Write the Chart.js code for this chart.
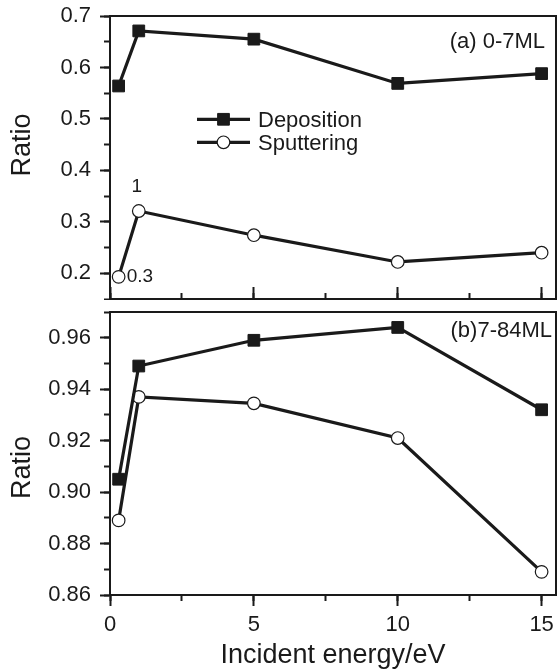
<!DOCTYPE html>
<html>
<head>
<meta charset="utf-8">
<script src="https://cdn.jsdelivr.net/npm/chart.js@4.4.1/dist/chart.umd.min.js"></script>
<style>
html,body{margin:0;padding:0;background:#fff;}
#wrap{position:relative;width:558px;height:672px;overflow:hidden;background:#fff;}
.panel{position:absolute;left:0;width:558px;}
#pa{top:0;height:300px;}
#pb{top:300px;height:372px;}
canvas{display:block;}
</style>
</head>
<body>
<div id="wrap">
  <div class="panel" id="pa"><canvas id="ca" width="558" height="300"></canvas></div>
  <div class="panel" id="pb"><canvas id="cb" width="558" height="372"></canvas></div>
</div>
<script>
// ---- data ----
const energies = [0.3, 1, 5, 10, 15];
const depositionA = [0.564, 0.671, 0.655, 0.569, 0.588];
const sputteringA = [0.193, 0.321, 0.274, 0.222, 0.240];
const depositionB = [0.905, 0.949, 0.959, 0.964, 0.932];
const sputteringB = [0.889, 0.937, 0.9345, 0.921, 0.869];
const seriesNames = ['Deposition', 'Sputtering'];
const panelLabels = ['(a) 0-7ML', '(b)7-84ML'];
const xTicks = [0, 5, 10, 15];
const xMinorTicks = [0, 2.5, 5, 7.5, 10, 12.5, 15];
const yTicksA = [0.2, 0.3, 0.4, 0.5, 0.6, 0.7];
const yMinorTicksA = [0.15, 0.2, 0.25, 0.3, 0.35, 0.4, 0.45, 0.5, 0.55, 0.6, 0.65, 0.7];
const yTicksB = [0.86, 0.88, 0.90, 0.92, 0.94, 0.96];
const yMinorTicksB = [0.86, 0.87, 0.88, 0.89, 0.90, 0.91, 0.92, 0.93, 0.94, 0.95, 0.96, 0.97];
const xTitle = 'Incident energy/eV';
const yTitle = 'Ratio';
const pointLabelsA = ['0.3', '1'];

const INK = '#1a1a1a';
const FONT = '"Liberation Sans", Arial, Helvetica, sans-serif';

const overlayPlugin = {
  id: 'overlay',
  afterDatasetsDraw(chart, args, opts) {
    const ctx = chart.ctx;
    const ca = chart.chartArea;
    const xs = chart.scales.x, ys = chart.scales.y;
    ctx.save();
    ctx.fillStyle = INK;
    // y-axis title
    ctx.save();
    ctx.font = '27px ' + FONT;
    ctx.textAlign = 'center';
    ctx.textBaseline = 'middle';
    ctx.translate(opts.yTitleX, (ca.top + ca.bottom) / 2 + opts.yTitleDy);
    ctx.rotate(-Math.PI / 2);
    ctx.fillText(yTitle, 0, 0);
    ctx.restore();
    // panel label
    ctx.font = '22px ' + FONT;
    ctx.textAlign = 'right';
    ctx.textBaseline = 'middle';
    ctx.fillText(opts.panelLabel, ca.right - opts.labelDx, ca.top + opts.labelDy);
    // point labels
    (opts.pointLabels || []).forEach(pl => {
      ctx.font = '19px ' + FONT;
      ctx.textAlign = pl.align;
      ctx.textBaseline = 'middle';
      ctx.fillText(pl.text, xs.getPixelForValue(pl.x) + pl.dx, ys.getPixelForValue(pl.y) + pl.dy);
    });
    // legend
    if (opts.legend) {
      const L = opts.legend;
      chart.data.datasets.forEach((ds, i) => {
        const y = ca.top + L.dy + i * L.gap;
        const x0 = ca.left + L.dx, x1 = x0 + L.len, xm = (x0 + x1) / 2;
        ctx.strokeStyle = ds.borderColor;
        ctx.lineWidth = ds.borderWidth;
        ctx.beginPath(); ctx.moveTo(x0, y); ctx.lineTo(x1, y); ctx.stroke();
        ctx.lineWidth = ds.pointBorderWidth;
        ctx.fillStyle = ds.pointBackgroundColor;
        ctx.strokeStyle = ds.pointBorderColor;
        if (ds.pointStyle === 'rect') {
          const h = ds.pointRadius * Math.SQRT1_2;
          ctx.beginPath(); ctx.rect(xm - h, y - h, 2 * h, 2 * h); ctx.fill(); ctx.stroke();
        } else {
          ctx.beginPath(); ctx.arc(xm, y, ds.pointRadius, 0, Math.PI * 2); ctx.fill(); ctx.stroke();
        }
        ctx.fillStyle = INK;
        ctx.font = '22px ' + FONT;
        ctx.textAlign = 'left';
        ctx.textBaseline = 'middle';
        ctx.fillText(ds.label, x1 + L.textGap, y + 1.5);
      });
    }
    ctx.restore();
  }
};

function setTicks(arr) { return s => { s.ticks = arr.map(v => ({ value: v })); }; }
function fixH(h) { return s => { s.height = h; s.paddingLeft = 0; s.paddingRight = 0; s.paddingTop = 0; s.paddingBottom = 0; }; }
function fixW(w) { return s => { s.width = w; s.paddingLeft = 0; s.paddingRight = 0; s.paddingTop = 0; s.paddingBottom = 0; }; }

function makePanel(canvas, dep, sput, cfg) {
  const pts = arr => energies.map((e, i) => ({ x: e, y: arr[i] }));
  return new Chart(canvas, {
    type: 'line',
    data: {
      datasets: [
        { label: seriesNames[0], data: pts(dep), borderColor: INK, borderWidth: 3.2,
          pointStyle: 'rect', pointRadius: 8.3, pointHoverRadius: 8.3,
          pointBackgroundColor: INK, pointBorderColor: INK, pointBorderWidth: 1,
          tension: 0, clip: false },
        { label: seriesNames[1], data: pts(sput), borderColor: INK, borderWidth: 3.2,
          pointStyle: 'circle', pointRadius: 6.3, pointHoverRadius: 6.3,
          pointBackgroundColor: '#ffffff', pointBorderColor: INK, pointBorderWidth: 1.2,
          tension: 0, clip: false }
      ]
    },
    options: {
      responsive: false,
      animation: false,
      events: [],
      layout: { autoPadding: false, padding: { top: cfg.padTop, right: 2, left: 0, bottom: 0 } },
      plugins: {
        legend: { display: false },
        tooltip: { enabled: false },
        overlay: cfg.overlay
      },
      scales: {
        x: {
          type: 'linear', position: 'bottom', min: 0, max: 15.5, weight: 1,
          afterBuildTicks: setTicks(xTicks),
          ticks: { display: cfg.showX, autoSkip: false, padding: 6, color: INK,
                   font: { family: FONT, size: 22 }, callback: v => String(v) },
          grid: { drawOnChartArea: false, drawTicks: true, tickLength: cfg.showX ? 11 : -12,
                  tickWidth: 2, tickColor: INK },
          border: { display: true, color: INK, width: 2 },
          title: { display: cfg.showX, text: xTitle, color: INK,
                   font: { family: FONT, size: 27 }, padding: { top: 0, bottom: 0 } },
          afterFit: fixH(cfg.xHeight)
        },
        xMinor: {
          type: 'linear', axis: 'x', position: 'bottom', min: 0, max: 15.5, weight: 0,
          afterBuildTicks: setTicks(xMinorTicks),
          ticks: { display: false },
          grid: { drawOnChartArea: false, drawTicks: true, tickLength: cfg.showX ? 6 : -6,
                  tickWidth: 2, tickColor: INK },
          border: { display: false },
          afterFit: fixH(0)
        },
        xTop: {
          type: 'linear', axis: 'x', position: 'top', min: 0, max: 15.5,
          ticks: { display: false }, grid: { display: false },
          border: { display: true, color: INK, width: 2 },
          afterFit: fixH(0)
        },
        y: {
          type: 'linear', position: 'left', min: cfg.yMin, max: cfg.yMax, weight: 1,
          afterBuildTicks: setTicks(cfg.yTicks),
          ticks: { autoSkip: false, padding: 9, color: INK,
                   font: { family: FONT, size: 22 }, callback: v => v.toFixed(cfg.dec) },
          grid: { drawOnChartArea: false, drawTicks: true, tickLength: 10, tickWidth: 2, tickColor: INK },
          border: { display: true, color: INK, width: 2 },
          title: { display: false },
          afterFit: fixW(110)
        },
        yMinor: {
          type: 'linear', axis: 'y', position: 'left', min: cfg.yMin, max: cfg.yMax, weight: 0,
          afterBuildTicks: setTicks(cfg.yMinor),
          ticks: { display: false },
          grid: { drawOnChartArea: false, drawTicks: true, tickLength: 6, tickWidth: 2, tickColor: INK },
          border: { display: false },
          afterFit: fixW(0)
        },
        yRight: {
          type: 'linear', axis: 'y', position: 'right', min: cfg.yMin, max: cfg.yMax,
          ticks: { display: false }, grid: { display: false },
          border: { display: true, color: INK, width: 2 },
          afterFit: fixW(0)
        }
      }
    },
    plugins: [overlayPlugin]
  });
}

makePanel(document.getElementById('ca'), depositionA, sputteringA, {
  padTop: 16, xHeight: 1, showX: false,
  yMin: 0.15, yMax: 0.7, yTicks: yTicksA, yMinor: yMinorTicksA, dec: 1,
  overlay: {
    yTitleX: 23, yTitleDy: -12.5,
    panelLabel: panelLabels[0], labelDx: 11, labelDy: 26,
    pointLabels: [
      { text: pointLabelsA[0], x: energies[0], y: sputteringA[0], dx: 8, dy: 0, align: 'left' },
      { text: pointLabelsA[1], x: energies[1], y: sputteringA[1], dx: -2, dy: -24, align: 'center' }
    ],
    legend: { dx: 87, dy: 103.3, gap: 23, len: 53, textGap: 8 }
  }
});

makePanel(document.getElementById('cb'), depositionB, sputteringB, {
  padTop: 12, xHeight: 77, showX: true,
  yMin: 0.86, yMax: 0.97, yTicks: yTicksB, yMinor: yMinorTicksB, dec: 2,
  overlay: { yTitleX: 23, yTitleDy: 14, panelLabel: panelLabels[1], labelDx: 4, labelDy: 19, pointLabels: [], legend: null }
});
</script>
</body>
</html>
